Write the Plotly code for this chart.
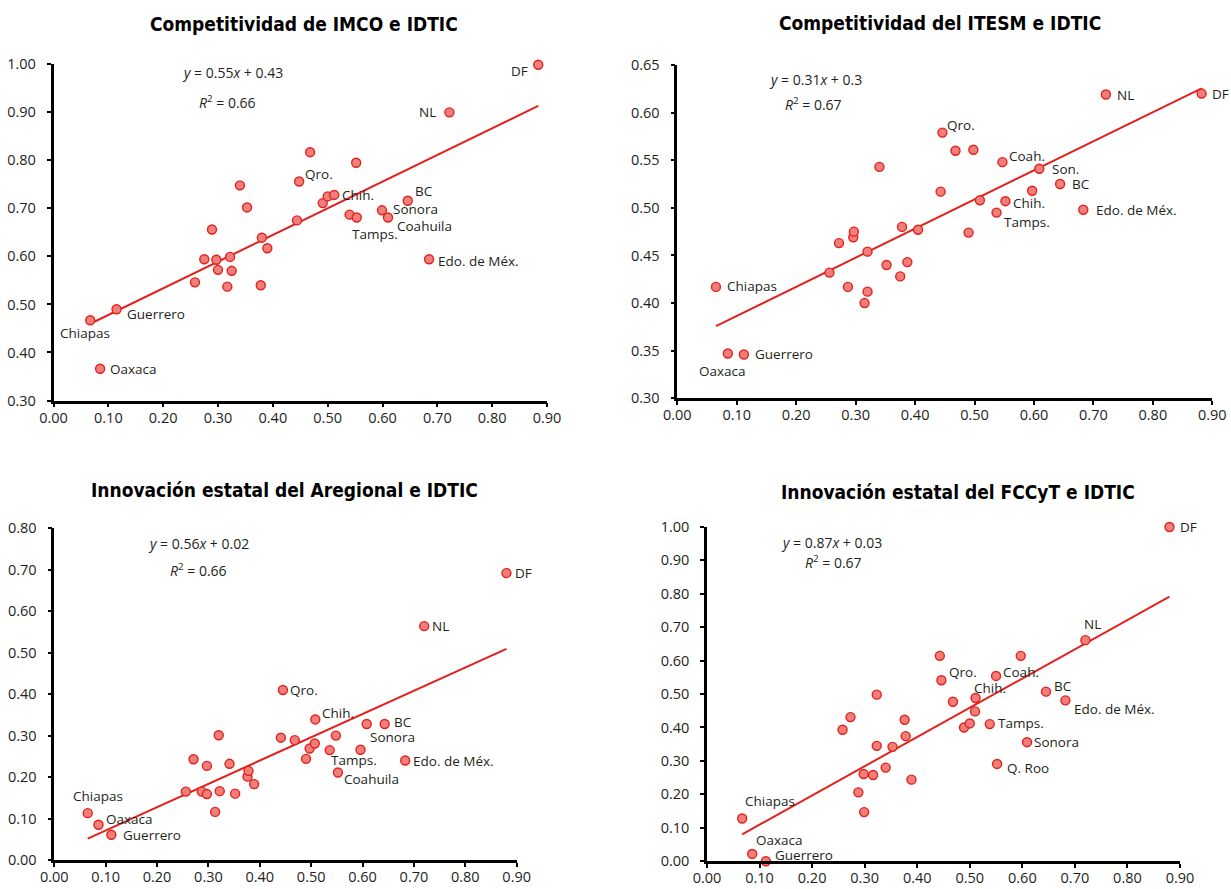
import numpy as np
import plotly.graph_objects as go

# ---- Competitividad de IMCO vs IDTIC ----
imco_x = [0.067, 0.085, 0.115, 0.258, 0.275, 0.289, 0.297, 0.300, 0.317, 0.322, 0.325,
          0.340, 0.353, 0.378, 0.380, 0.390, 0.444, 0.448, 0.468, 0.491, 0.500, 0.512,
          0.540, 0.552, 0.553, 0.599, 0.610, 0.646, 0.685, 0.722, 0.884]
imco_y = [0.467, 0.366, 0.490, 0.546, 0.594, 0.656, 0.593, 0.572, 0.537, 0.599, 0.570,
          0.748, 0.702, 0.540, 0.639, 0.617, 0.675, 0.756, 0.817, 0.711, 0.725, 0.728,
          0.687, 0.795, 0.681, 0.696, 0.681, 0.716, 0.594, 0.900, 0.999]
imco_lbl = ["Chiapas", "Oaxaca", "Guerrero", "", "", "", "", "", "", "", "",
            "", "", "", "", "", "", "Qro.", "", "", "", "Chih.",
            "", "", "Tamps.", "Sonora", "Coahuila", "BC", "Edo. de Méx.", "NL", "DF"]

# ---- Competitividad del ITESM vs IDTIC ----
itesm_x = [0.065, 0.085, 0.112, 0.256, 0.272, 0.287, 0.296, 0.297, 0.315, 0.320, 0.320,
           0.340, 0.352, 0.375, 0.378, 0.387, 0.405, 0.443, 0.446, 0.468, 0.490, 0.498,
           0.509, 0.537, 0.547, 0.552, 0.597, 0.609, 0.644, 0.683, 0.721, 0.882]
itesm_y = [0.417, 0.347, 0.346, 0.432, 0.463, 0.417, 0.469, 0.475, 0.400, 0.412, 0.454,
           0.543, 0.440, 0.428, 0.480, 0.443, 0.477, 0.517, 0.579, 0.560, 0.474, 0.561,
           0.508, 0.495, 0.548, 0.507, 0.518, 0.541, 0.525, 0.498, 0.619, 0.620]
itesm_lbl = ["Chiapas", "Oaxaca", "Guerrero", "", "", "", "", "", "", "", "",
             "", "", "", "", "", "", "", "Qro.", "", "", "",
             "", "Tamps.", "Coah.", "Chih.", "", "Son.", "BC", "Edo. de Méx.", "NL", "DF"]

# ---- Innovación estatal del Aregional vs IDTIC ----
areg_x = [0.065, 0.086, 0.111, 0.256, 0.271, 0.287, 0.297, 0.297, 0.313, 0.320, 0.322,
          0.341, 0.352, 0.376, 0.378, 0.389, 0.441, 0.445, 0.468, 0.490, 0.497, 0.507,
          0.508, 0.536, 0.548, 0.552, 0.596, 0.608, 0.643, 0.683, 0.720, 0.880]
areg_y = [0.113, 0.085, 0.061, 0.165, 0.243, 0.165, 0.159, 0.227, 0.116, 0.301, 0.166,
          0.232, 0.160, 0.201, 0.215, 0.183, 0.295, 0.410, 0.289, 0.244, 0.269, 0.281,
          0.339, 0.265, 0.300, 0.211, 0.266, 0.328, 0.328, 0.240, 0.564, 0.692]
areg_lbl = ["Chiapas", "Oaxaca", "Guerrero", "", "", "", "", "", "", "", "",
            "", "", "", "", "", "", "Qro.", "", "", "", "",
            "Chih.", "Tamps.", "", "Coahuila", "", "Sonora", "BC", "Edo. de Méx.", "NL", "DF"]

# ---- Innovación estatal del FCCyT vs IDTIC ----
fccyt_x = [0.067, 0.086, 0.112, 0.258, 0.273, 0.288, 0.298, 0.299, 0.316, 0.323, 0.323,
           0.340, 0.353, 0.376, 0.378, 0.389, 0.443, 0.446, 0.468, 0.489, 0.500, 0.510,
           0.511, 0.538, 0.550, 0.552, 0.597, 0.609, 0.645, 0.682, 0.720, 0.880]
fccyt_y = [0.128, 0.022, 0.000, 0.393, 0.431, 0.206, 0.261, 0.147, 0.258, 0.498, 0.345,
           0.280, 0.342, 0.423, 0.374, 0.244, 0.614, 0.541, 0.477, 0.400, 0.412, 0.448,
           0.488, 0.410, 0.554, 0.291, 0.614, 0.356, 0.507, 0.481, 0.661, 0.999]
fccyt_lbl = ["Chiapas", "Oaxaca", "Guerrero", "", "", "", "", "", "", "", "",
             "", "", "", "", "", "", "Qro.", "", "", "", "",
             "Chih.", "Tamps.", "Coah.", "Q. Roo", "", "Sonora", "BC", "Edo. de Méx.", "NL", "DF"]

titles = ["Competitividad de IMCO e IDTIC", "Competitividad del ITESM e IDTIC",
          "Innovación estatal del Aregional e IDTIC", "Innovación estatal del FCCyT e IDTIC"]
equations = ["<i>y</i> = 0.55<i>x</i> + 0.43", "<i>y</i> = 0.31<i>x</i> + 0.3",
             "<i>y</i> = 0.56<i>x</i> + 0.02", "<i>y</i> = 0.87<i>x</i> + 0.03"]
r_squared = ["<i>R</i><sup>2</sup> = 0.66", "<i>R</i><sup>2</sup> = 0.67",
             "<i>R</i><sup>2</sup> = 0.66", "<i>R</i><sup>2</sup> = 0.67"]

# label placement per panel: name -> (xanchor, xshift, yshift)
label_pos = [
    {"Chiapas": ("center", -5, -13), "Oaxaca": ("left", 8, 0), "Guerrero": ("left", 8, -5),
     "Qro.": ("left", 4, 7), "Chih.": ("left", 6, 0), "Tamps.": ("left", -7, -16),
     "Sonora": ("left", 9, 1), "Coahuila": ("left", 7, -8), "BC": ("left", 5, 10),
     "Edo. de Méx.": ("left", 7, -2), "NL": ("right", -11, 0), "DF": ("right", -8, -6)},
    {"Chiapas": ("left", 9, 1), "Oaxaca": ("center", -5, -17), "Guerrero": ("left", 9, 0),
     "Qro.": ("left", 3, 8), "Tamps.": ("left", 5, -9), "Coah.": ("left", 5, 6),
     "Chih.": ("left", 6, -2), "Son.": ("left", 11, 0), "BC": ("left", 10, 0),
     "Edo. de Méx.": ("left", 11, 0), "NL": ("left", 9, 0), "DF": ("left", 8, 0)},
    {"Chiapas": ("center", 10, 17), "Oaxaca": ("left", 6, 6), "Guerrero": ("left", 10, 0),
     "Qro.": ("left", 5, 0), "Chih.": ("left", 5, 6), "Tamps.": ("left", -1, -10),
     "Coahuila": ("left", 4, -6), "Sonora": ("left", 1, -13), "BC": ("left", 7, 2),
     "Edo. de Méx.": ("left", 6, -1), "NL": ("left", 6, 0), "DF": ("left", 7, 0)},
    {"Chiapas": ("left", 1, 17), "Oaxaca": ("left", 2, 14), "Guerrero": ("left", 7, 6),
     "Qro.": ("left", 6, 8), "Chih.": ("left", -4, 10), "Tamps.": ("left", 6, 1),
     "Coah.": ("left", 5, 4), "Q. Roo": ("left", 8, -4), "Sonora": ("left", 5, 0),
     "BC": ("left", 6, 6), "Edo. de Méx.": ("left", 7, -9), "NL": ("center", 7, 16),
     "DF": ("left", 9, 0)},
]

panels = [
    (imco_x, imco_y, imco_lbl, [0.30, 1.00], 0.10),
    (itesm_x, itesm_y, itesm_lbl, [0.30, 0.65], 0.05),
    (areg_x, areg_y, areg_lbl, [0.00, 0.80], 0.10),
    (fccyt_x, fccyt_y, fccyt_lbl, [0.00, 1.00], 0.10),
]

W, H = 1231, 889
# plot-area corners in pixels: (left, right, bottom, top)
boxes = [(53.5, 547.0, 400.5, 64.3), (677.3, 1212.3, 398.3, 65.0),
         (54.3, 516.7, 860.0, 528.3), (707.0, 1180.0, 861.3, 526.7)]
title_pos = [(304, 24), (940, 23), (284, 490), (958, 492)]
eq_pos = [(232, 73, 227, 102), (815, 80, 813, 104), (198, 543, 198, 570), (831, 542, 833, 562)]

TXT = "#231f20"
RED = "#e3211c"
FILL = "#f07f7b"
BODY_FONT = "Open Sans, Noto Sans, sans-serif"
TITLE_FONT = "DejaVu Sans Condensed, Liberation Sans Narrow, Arial Narrow, sans-serif"

fig = go.Figure()
annotations = []

for i, (xs, ys, lbls, yrange, ystep) in enumerate(panels):
    n = i + 1
    xa = "x" if n == 1 else f"x{n}"
    ya = "y" if n == 1 else f"y{n}"
    left, right, bottom, top = boxes[i]

    # least-squares trend line over the observed x span
    slope, intercept = np.polyfit(xs, ys, 1)
    tx = np.array([min(xs), max(xs)])
    fig.add_trace(go.Scatter(x=tx, y=slope * tx + intercept, mode="lines",
                             line=dict(color=RED, width=2), xaxis=xa, yaxis=ya,
                             showlegend=False, hoverinfo="skip"))
    fig.add_trace(go.Scatter(x=xs, y=ys, mode="markers", cliponaxis=False,
                             marker=dict(size=9, color=FILL, line=dict(color=RED, width=1.4)),
                             xaxis=xa, yaxis=ya, showlegend=False, text=lbls))

    axis_common = dict(showline=True, linecolor="black", linewidth=2.5, ticks="outside",
                       ticklen=4, tickwidth=2, tickcolor="black", showgrid=False,
                       zeroline=False, tickformat=".2f", automargin=False,
                       tickfont=dict(family=BODY_FONT, size=14.5, color=TXT))
    fig.update_layout(**{
        ("xaxis" if n == 1 else f"xaxis{n}"): dict(
            axis_common, domain=[left / W, right / W], range=[0, 0.9], dtick=0.1, tick0=0,
            anchor=ya, ticklabelstandoff=-2),
        ("yaxis" if n == 1 else f"yaxis{n}"): dict(
            axis_common, domain=[1 - bottom / H, 1 - top / H], range=yrange, dtick=ystep,
            tick0=yrange[0], anchor=xa, ticklabelstandoff=8),
    })

    # state names beside their points
    for x, y, name in zip(xs, ys, lbls):
        if not name:
            continue
        anchor, dx, dy = label_pos[i][name]
        annotations.append(dict(x=x, y=y, xref=xa, yref=ya, text=name, showarrow=False,
                                xanchor=anchor, yanchor="middle", xshift=dx, yshift=dy,
                                font=dict(family=BODY_FONT, size=13.5, color=TXT)))

    # panel title and fitted equation
    tx_, ty_ = title_pos[i]
    annotations.append(dict(x=tx_ / W, y=1 - ty_ / H, xref="paper", yref="paper",
                            text="<b>" + titles[i] + "</b>", showarrow=False,
                            xanchor="center", yanchor="middle",
                            font=dict(family=TITLE_FONT, size=19, color="black")))
    ex, ey, rx, ry = eq_pos[i]
    annotations.append(dict(x=ex / W, y=1 - ey / H, xref="paper", yref="paper",
                            text=equations[i], showarrow=False, xanchor="center",
                            yanchor="middle", font=dict(family=BODY_FONT, size=14, color=TXT)))
    annotations.append(dict(x=rx / W, y=1 - ry / H, xref="paper", yref="paper",
                            text=r_squared[i], showarrow=False, xanchor="center",
                            yanchor="middle", font=dict(family=BODY_FONT, size=14, color=TXT)))

fig.update_layout(width=W, height=H,
                  margin=dict(l=0, r=0, t=0, b=0, pad=0, autoexpand=False),
                  paper_bgcolor="white", plot_bgcolor="white", annotations=annotations)

fig.write_html("out.html")
